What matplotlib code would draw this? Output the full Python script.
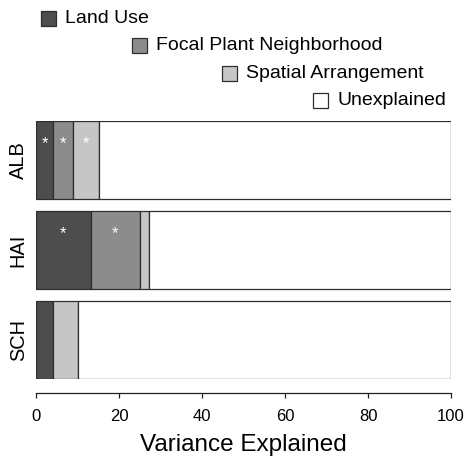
import matplotlib
matplotlib.use('Agg')
import matplotlib.pyplot as plt
from matplotlib.patches import Rectangle

plt.rcParams['font.family'] = ['Liberation Sans', 'DejaVu Sans']

# variance partitioning per site (percent)
sites = ['ALB', 'HAI', 'SCH']
components = ['Land Use', 'Focal Plant Neighborhood', 'Spatial Arrangement', 'Unexplained']
land_use = [4.2, 13.2, 4.2]
focal = [4.8, 11.9, 0.0]
spatial = [6.1, 2.1, 5.9]
# significance flags (white asterisks)
sig_land = [True, True, False]
sig_focal = [True, True, False]
sig_spatial = [True, False, False]

colors = ['#4D4D4D', '#8C8C8C', '#C6C6C6', '#FFFFFF']
edge = '#2E2E2E'

W, H = 471, 458
fig = plt.figure(figsize=(W / 100, H / 100), dpi=100)
ax = fig.add_axes([36 / W, 1 - 379 / H, 415 / W, 258 / H])

unexplained = [100 - a - b - c for a, b, c in zip(land_use, focal, spatial)]
parts = [land_use, focal, spatial, unexplained]
sigs = [sig_land, sig_focal, sig_spatial, [False] * 3]
ypos = list(range(len(sites)))
bh = 0.86

left = [0.0] * len(sites)
for vals, col, sg in zip(parts, colors, sigs):
    ax.barh(ypos, vals, left=left, height=bh, color=col, edgecolor=edge, linewidth=0.9)
    for i, (v, s) in enumerate(zip(vals, sg)):
        if s:
            ax.text(left[i] + v / 2, ypos[i] - 0.18, '*', color='white',
                    ha='center', va='center', fontsize=12)
    left = [l + v for l, v in zip(left, vals)]

ax.set_xlim(0, 100)
ax.set_ylim(2 + bh / 2, -bh / 2)
ax.set_xticks([0, 20, 40, 60, 80, 100])
ax.set_yticks(ypos)
ax.set_yticklabels(sites, rotation=90, va='center', fontsize=14.4)
ax.tick_params(axis='y', length=0, pad=6)
ax.tick_params(axis='x', length=3.6, width=0.9, labelsize=12, pad=8, color='#222222')
for side in ['top', 'right', 'left']:
    ax.spines[side].set_visible(False)
ax.spines['bottom'].set_position(('outward', 10))
ax.spines['bottom'].set_linewidth(0.9)
ax.spines['bottom'].set_color('#222222')
ax.set_xlabel('Variance Explained', fontsize=17.5, labelpad=7.5)

# staggered legend
for k, (name, col) in enumerate(zip(components, colors)):
    x0 = 41 + k * 90.7
    y0 = 11 + k * 27.3
    fig.patches.append(Rectangle((x0 / W, 1 - (y0 + 15) / H), 15 / W, 15 / H,
                                 transform=fig.transFigure, facecolor=col,
                                 edgecolor=edge, linewidth=0.9))
    fig.text((x0 + 24) / W, 1 - (y0 + 7.5) / H, name, fontsize=14,
             ha='left', va='center')

fig.savefig('out.png', dpi=100)
